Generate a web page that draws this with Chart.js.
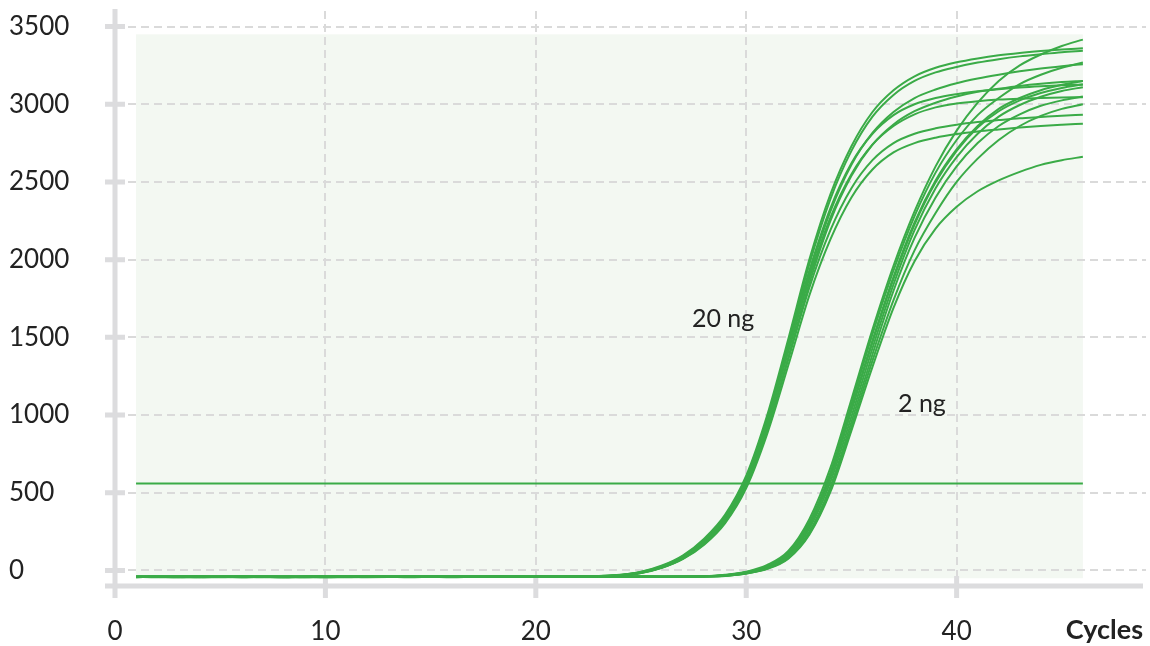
<!DOCTYPE html>
<html>
<head>
<meta charset="utf-8">
<script src="https://cdn.jsdelivr.net/npm/chart.js@4/dist/chart.umd.min.js"></script>
<style>
  html, body { margin: 0; padding: 0; background: #fff; }
  #wrap { width: 1150px; height: 646px; position: relative; }
</style>
</head>
<body>
<div id="wrap"><canvas id="qpcr"></canvas></div>
<script>
// amplification curves, fluorescence per cycle
const cycles = [1,2,3,4,5,6,7,8,9,10,11,12,13,14,15,16,17,18,19,20,21,22,23,24,25,26,27,28,29,30,31,32,33,34,35,36,37,38,39,40,41,42,43,44,45,46];
const xTicks = [0, 10, 20, 30, 40];
const yTicks = [0, 500, 1000, 1500, 2000, 2500, 3000, 3500];
const threshold = 560;

// 20 ng template
const ng20_1 = [-42,-41,-40,-42,-43,-41,-40,-39,-41,-42,-40,-39,-40,-41,-42,-40,-39,-40,-41,-40,-39,-38,-35,-28,-8,32,98,205,360,610,1000,1490,2000,2420,2730,2950,3090,3180,3235,3270,3295,3315,3330,3342,3352,3360];
const ng20_2 = [-40,-42,-41,-40,-39,-41,-43,-42,-40,-39,-40,-41,-42,-41,-40,-39,-41,-40,-40,-39,-40,-38,-36,-30,-12,26,90,192,345,590,975,1460,1970,2390,2700,2920,3060,3150,3205,3240,3268,3290,3308,3322,3335,3345];
const ng20_3 = [-41,-40,-42,-43,-41,-40,-39,-40,-42,-41,-40,-42,-41,-39,-40,-41,-40,-39,-41,-40,-39,-39,-37,-31,-14,22,83,182,328,568,940,1415,1905,2310,2610,2815,2950,3040,3095,3135,3165,3190,3212,3230,3245,3258];
const ng20_4 = [-43,-42,-40,-41,-42,-43,-41,-40,-41,-40,-42,-41,-40,-42,-41,-40,-41,-42,-40,-41,-40,-39,-38,-32,-16,18,76,170,312,545,905,1370,1850,2250,2540,2740,2870,2955,3010,3050,3080,3100,3118,3132,3143,3150];
const ng20_5 = [-40,-41,-43,-42,-40,-39,-40,-41,-43,-42,-40,-39,-41,-40,-39,-41,-42,-40,-39,-40,-39,-38,-36,-29,-10,28,92,196,350,596,980,1450,1930,2330,2620,2810,2930,3000,3040,3065,3083,3097,3108,3116,3122,3126];
const ng20_6 = [-42,-40,-41,-39,-40,-42,-41,-40,-39,-41,-42,-40,-41,-43,-41,-40,-39,-41,-40,-41,-40,-39,-37,-30,-13,24,86,186,334,575,945,1410,1880,2270,2550,2740,2860,2935,2980,3005,3020,3030,3036,3040,3043,3045];
const ng20_7 = [-41,-43,-42,-40,-41,-40,-42,-43,-41,-40,-41,-42,-40,-41,-40,-42,-41,-40,-41,-40,-41,-40,-38,-32,-15,20,80,176,318,552,910,1360,1820,2190,2460,2640,2750,2810,2845,2868,2885,2898,2910,2918,2926,2933];
const ng20_8 = [-43,-41,-40,-42,-41,-42,-40,-41,-42,-43,-41,-40,-42,-41,-40,-41,-42,-41,-40,-41,-41,-40,-39,-33,-17,17,74,166,305,530,880,1320,1770,2130,2400,2580,2690,2750,2785,2808,2825,2838,2850,2860,2868,2875];

// 2 ng template
const ng2_1 = [-40,-41,-42,-40,-39,-41,-42,-43,-41,-40,-39,-40,-41,-42,-40,-39,-41,-40,-42,-41,-40,-39,-41,-40,-39,-40,-38,-37,-28,-8,35,125,330,660,1100,1550,1960,2310,2600,2830,3010,3150,3250,3320,3375,3416];
const ng2_2 = [-42,-41,-40,-39,-41,-40,-42,-41,-40,-39,-41,-43,-42,-40,-41,-40,-39,-40,-41,-42,-41,-40,-39,-41,-40,-39,-39,-37,-30,-10,30,115,310,630,1070,1520,1930,2280,2560,2770,2930,3040,3130,3190,3235,3268];
const ng2_3 = [-41,-40,-39,-41,-42,-43,-41,-40,-39,-40,-41,-42,-40,-41,-39,-40,-42,-41,-40,-39,-41,-40,-42,-40,-39,-40,-39,-38,-31,-12,26,108,295,605,1040,1480,1890,2240,2510,2710,2860,2970,3040,3090,3125,3150];
const ng2_4 = [-39,-40,-41,-43,-42,-40,-39,-41,-40,-42,-43,-41,-40,-39,-41,-42,-40,-41,-39,-40,-41,-42,-40,-39,-41,-40,-40,-38,-31,-13,24,104,288,598,1028,1468,1876,2226,2498,2700,2850,2955,3025,3072,3105,3128];
const ng2_5 = [-40,-42,-43,-41,-40,-39,-40,-42,-41,-40,-39,-41,-42,-40,-41,-43,-41,-40,-39,-41,-40,-42,-41,-40,-39,-40,-40,-39,-33,-16,18,95,270,570,990,1430,1840,2190,2460,2660,2810,2920,2995,3048,3085,3110];
const ng2_6 = [-41,-39,-40,-42,-41,-40,-41,-43,-42,-40,-41,-40,-39,-41,-42,-40,-41,-39,-40,-42,-41,-40,-39,-41,-40,-41,-40,-39,-34,-18,14,86,250,540,955,1390,1800,2140,2400,2600,2750,2860,2935,2990,3025,3050];
const ng2_7 = [-42,-40,-41,-39,-40,-41,-42,-40,-41,-43,-42,-40,-41,-39,-40,-41,-42,-40,-41,-40,-39,-41,-40,-42,-40,-41,-40,-39,-34,-19,12,80,238,520,925,1350,1740,2060,2300,2500,2650,2770,2860,2925,2970,3000];
const ng2_8 = [-40,-41,-39,-40,-42,-41,-40,-42,-43,-41,-40,-39,-41,-40,-42,-41,-40,-39,-41,-42,-40,-41,-40,-39,-41,-40,-40,-39,-35,-20,10,76,230,505,900,1310,1690,1990,2200,2340,2440,2510,2565,2610,2640,2662];

const curves = [ng20_1, ng20_2, ng20_3, ng20_4, ng20_5, ng20_6, ng20_7, ng20_8,
                ng2_1, ng2_2, ng2_3, ng2_4, ng2_5, ng2_6, ng2_7, ng2_8];

const green = '#3aab47';
const gridGrey = '#dadada';
const axisGrey = '#dcdcde';
const textCol = '#222222';
const fontFam = 'Lato, "Open Sans", sans-serif';

const notes = [
  { text: '20 ng', x: 28.9, y: 1620 },
  { text: '2 ng', x: 38.35, y: 1070 }
];

const datasets = curves.map(c => ({
  data: c,
  borderColor: green,
  borderWidth: 2,
  pointRadius: 0,
  fill: false,
  cubicInterpolationMode: 'monotone'
}));
datasets.push({
  data: [{ x: cycles[0], y: threshold }, { x: cycles[cycles.length - 1], y: threshold }],
  borderColor: green,
  borderWidth: 2,
  pointRadius: 0,
  fill: false
});

const decor = {
  id: 'decor',
  beforeDraw(chart) {
    const { ctx, scales: { x, y } } = chart;
    const l = x.getPixelForValue(cycles[0]);
    const r = x.getPixelForValue(cycles[cycles.length - 1]);
    const t = y.getPixelForValue(3450);
    const b = y.getPixelForValue(-50);
    ctx.save();
    ctx.fillStyle = '#f3f8f2';
    ctx.fillRect(l, t, r - l, b - t);
    ctx.restore();
  },
  beforeDatasetsDraw(chart) {
    const { ctx, chartArea: a, scales: { x, y } } = chart;
    ctx.save();
    ctx.strokeStyle = axisGrey;
    ctx.lineWidth = 5;
    ctx.beginPath();
    ctx.moveTo(a.left, a.top - 2);
    ctx.lineTo(a.left, a.bottom + 12);
    ctx.moveTo(a.left - 10, a.bottom);
    ctx.lineTo(a.right - 3, a.bottom);
    yTicks.forEach(v => {
      const py = y.getPixelForValue(v);
      ctx.moveTo(a.left - 10, py);
      ctx.lineTo(a.left + 10, py);
    });
    xTicks.forEach(v => {
      const px = x.getPixelForValue(v);
      ctx.moveTo(px, a.bottom - 10);
      ctx.lineTo(px, a.bottom + 12);
    });
    ctx.stroke();
    ctx.restore();
  },
  afterDraw(chart) {
    const { ctx, chartArea: a, scales: { x, y } } = chart;
    ctx.save();
    ctx.fillStyle = textCol;
    ctx.textBaseline = 'middle';
    ctx.textAlign = 'center';
    ctx.font = '25px ' + fontFam;
    notes.forEach(n => ctx.fillText(n.text, x.getPixelForValue(n.x), y.getPixelForValue(n.y)));
    ctx.textAlign = 'right';
    ctx.font = 'bold 27px ' + fontFam;
    ctx.fillText('Cycles', a.right - 3, a.bottom + 44);
    ctx.restore();
  }
};

new Chart(document.getElementById('qpcr'), {
  type: 'line',
  data: { labels: cycles, datasets: datasets },
  options: {
    responsive: true,
    maintainAspectRatio: false,
    animation: false,
    layout: { padding: { left: 9, top: 11, right: 4, bottom: 0 } },
    plugins: { legend: { display: false }, tooltip: { enabled: false } },
    scales: {
      x: {
        type: 'linear',
        min: 0,
        max: 49,
        afterBuildTicks: s => { s.ticks = xTicks.map(v => ({ value: v })); },
        afterFit: s => { s.height = 60; s.paddingLeft = 0; s.paddingRight = 0; },
        grid: { color: gridGrey, lineWidth: 2, drawTicks: false },
        border: { display: false, dash: [8, 5] },
        ticks: {
          padding: 30,
          color: textCol,
          font: { family: fontFam, size: 26 },
          callback: v => String(v)
        }
      },
      y: {
        min: -100,
        max: 3600,
        afterBuildTicks: s => { s.ticks = yTicks.map(v => ({ value: v })); },
        afterFit: s => { s.width = 106; s.paddingTop = 0; s.paddingBottom = 0; },
        grid: { color: gridGrey, lineWidth: 2, drawTicks: false },
        border: { display: false, dash: [8, 5] },
        ticks: {
          crossAlign: 'far',
          color: textCol,
          font: { family: fontFam, size: 26 },
          callback: v => String(v)
        }
      }
    }
  },
  plugins: [decor]
});
</script>
</body>
</html>
